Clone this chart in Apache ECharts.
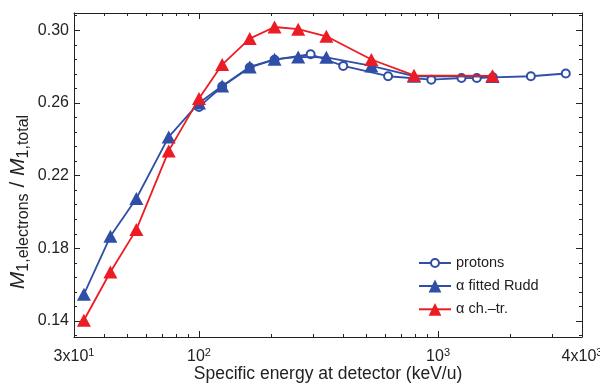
<!DOCTYPE html>
<html><head><meta charset="utf-8">
<script src="https://cdn.jsdelivr.net/npm/echarts@6/dist/echarts.min.js"></script>
<style>html,body{margin:0;padding:0;background:#fff}#c{width:600px;height:384px}</style>
</head><body><div id="c"></div>
<script>
// ---- data ----
const protonsX = [100, 125, 163, 207, 293, 401, 618, 937, 1253, 1452, 1694, 2444, 3421];
const protonsY = [0.2578, 0.2690, 0.2795, 0.2838, 0.2868, 0.2804, 0.2747, 0.2728, 0.2737, 0.2737, 0.2741, 0.2747, 0.2762];
const alphaX = [33, 42.6, 54.7, 74.7, 100, 125, 163, 207, 260, 341, 526, 793, 1689];
const ruddY = [0.1547, 0.1866, 0.2074, 0.2413, 0.2600, 0.2693, 0.2798, 0.2840, 0.2853, 0.2851, 0.2804, 0.2747, 0.2745];
const chtrY = [0.1404, 0.1670, 0.1903, 0.2336, 0.2624, 0.2811, 0.2954, 0.3018, 0.3006, 0.2967, 0.2839, 0.2752, 0.2749];
const seriesNames = ['protons', 'α fitted Rudd', 'α ch.–tr.'];

const xMin = 30, xMax = 4000;
const yMin = 0.1312, yMax = 0.3095;
const xLabelValues = [30, 100, 1000, 4000];
const xLabelTexts = ['3x10{s|1}', '10{s|2}', '10{s|3}', '4x10{s|3}'];
const xMajorTicks = [100, 1000];
const xMinorTicks = [40, 50, 60, 70, 80, 90, 200, 300, 400, 500, 600, 700, 800, 900, 2000, 3000];
const yLabelValues = [0.14, 0.18, 0.22, 0.26, 0.30];
const yMinorTicks = [0.132, 0.148, 0.156, 0.164, 0.172, 0.188, 0.196, 0.204, 0.212, 0.228, 0.236, 0.244, 0.252, 0.268, 0.276, 0.284, 0.292, 0.308];

const xTitle = 'Specific energy at detector (keV/u)';

const BLUE = '#2f4ea6', RED = '#ec1c24', AX = '#222';
const FONT = 'Liberation Sans, Arial, Helvetica, sans-serif';

const pairs = (xs, ys) => xs.map((x, i) => [x, ys[i]]);

function xAx(pos, ticks, len, withLabels, withLine) {
  const a = {
    type: 'log', logBase: 10, min: xMin, max: xMax, position: pos,
    axisLine: { show: withLine, lineStyle: { color: AX, width: 1 } },
    axisTick: { show: true, inside: true, length: len, customValues: ticks, lineStyle: { color: AX, width: 1 } },
    axisLabel: { show: false },
    splitLine: { show: false }, minorTick: { show: false }
  };
  if (withLabels) {
    a.axisLabel = {
      show: true, customValues: xLabelValues, margin: 10, color: AX, fontFamily: FONT, fontSize: 16, lineHeight: 20,
      formatter: (v) => { const i = xLabelValues.findIndex(t => Math.abs(t - v) / t < 1e-6); return i >= 0 ? xLabelTexts[i] : ''; },
      rich: { s: { fontSize: 11, lineHeight: 10, verticalAlign: 'top', color: AX, fontFamily: FONT } }
    };
    a.name = xTitle; a.nameLocation = 'middle'; a.nameGap = 28; a.nameMoveOverlap = false;
    a.nameTextStyle = { color: AX, fontFamily: FONT, fontSize: 17.5, verticalAlign: 'top' };
  }
  return a;
}
function yAx(pos, ticks, len, withLabels, withLine) {
  const a = {
    type: 'value', min: yMin, max: yMax, position: pos,
    axisLine: { show: withLine, lineStyle: { color: AX, width: 1 } },
    axisTick: { show: true, inside: true, length: len, customValues: ticks, lineStyle: { color: AX, width: 1 } },
    axisLabel: { show: false },
    splitLine: { show: false }
  };
  if (withLabels) {
    a.axisLabel = { show: true, customValues: yLabelValues, margin: 5, color: AX, fontFamily: FONT, fontSize: 16,
      formatter: (v) => v.toFixed(2) };
  }
  return a;
}

const legendText = { color: AX, fontFamily: FONT, fontSize: 14.5, lineHeight: 16 };

const chart = echarts.init(document.getElementById('c'), null, { renderer: 'canvas' });
chart.setOption({
  animation: false,
  backgroundColor: '#fff',
  grid: { left: 74, right: 18, top: 13, bottom: 47, containLabel: false, outerBoundsMode: 'none' },
  xAxis: [
    xAx('bottom', xMajorTicks, 6, true, true),
    xAx('bottom', xMinorTicks, 3, false, false),
    xAx('top', xMajorTicks, 6, false, true),
    xAx('top', xMinorTicks, 3, false, false)
  ],
  yAxis: [
    yAx('left', yLabelValues, 6, true, true),
    yAx('left', yMinorTicks, 3, false, false),
    yAx('right', yLabelValues, 6, false, true),
    yAx('right', yMinorTicks, 3, false, false)
  ],
  legend: [
    { data: [seriesNames[0]], orient: 'vertical', left: 418, top: 255, padding: 0, itemWidth: 32, itemHeight: 10, itemGap: 0,
      selectedMode: false, textStyle: legendText },
    { data: [seriesNames[1], seriesNames[2]], orient: 'vertical', left: 418, top: 278, padding: 0, itemWidth: 32, itemHeight: 16, itemGap: 7.3,
      selectedMode: false, textStyle: legendText }
  ],
  graphic: [{
    type: 'text', x: 18, y: 202, rotation: Math.PI / 2,
    style: {
      text: '{m|M}{s|1,electrons}{n| / }{m|M}{s|1,total}',
      align: 'center', verticalAlign: 'middle', fill: AX,
      rich: {
        m: { fontSize: 21, fontStyle: 'italic', lineHeight: 27, fontFamily: FONT, fill: AX },
        n: { fontSize: 21, lineHeight: 27, fontFamily: FONT, fill: AX },
        s: { fontSize: 16, lineHeight: 16, verticalAlign: 'bottom', fontFamily: FONT, fill: AX }
      }
    }
  }],
  series: [
    { name: seriesNames[0], type: 'line', data: pairs(protonsX, protonsY), symbol: 'emptyCircle', symbolSize: 8,
      lineStyle: { color: BLUE, width: 1.8 }, itemStyle: { color: BLUE, borderWidth: 1.8, borderColor: BLUE }, z: 2 },
    { name: seriesNames[1], type: 'line', data: pairs(alphaX, ruddY), symbol: 'triangle', symbolSize: [14, 13],
      lineStyle: { color: BLUE, width: 1.8 }, itemStyle: { color: BLUE }, z: 3 },
    { name: seriesNames[2], type: 'line', data: pairs(alphaX, chtrY), symbol: 'triangle', symbolSize: [14, 13],
      lineStyle: { color: RED, width: 1.8 }, itemStyle: { color: RED }, z: 4 }
  ]
});
</script></body></html>
